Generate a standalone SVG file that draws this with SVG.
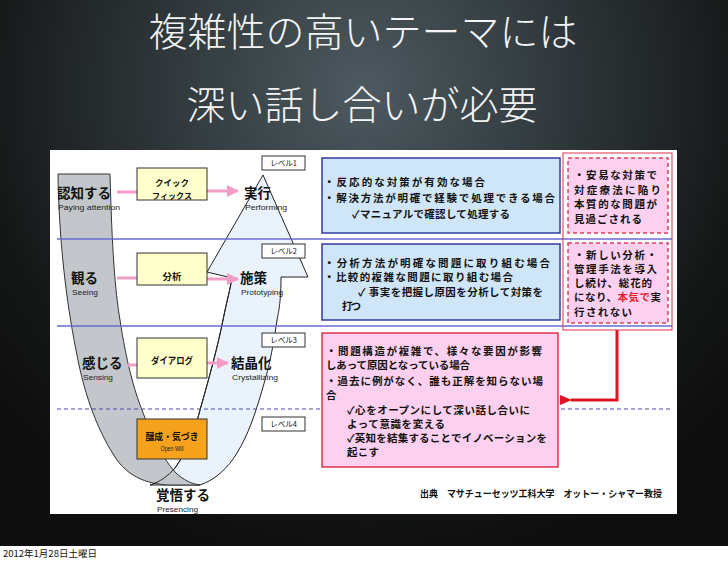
<svg xmlns="http://www.w3.org/2000/svg" width="728" height="561" viewBox="0 0 728 561">
<defs>
<radialGradient id="bg" cx="364" cy="90" r="480" gradientUnits="userSpaceOnUse">
<stop offset="0" stop-color="#4d5a60"/>
<stop offset="0.35" stop-color="#343d41"/>
<stop offset="0.8" stop-color="#151717"/>
<stop offset="1" stop-color="#0e0e0e"/>
</radialGradient>
<marker id="pinkHead" markerUnits="userSpaceOnUse" markerWidth="12" markerHeight="12" refX="11" refY="6" orient="auto">
<path d="M0,0 L12,6 L0,12 Z" fill="#f29cc8"/>
</marker>
<marker id="redHead" markerUnits="userSpaceOnUse" markerWidth="12" markerHeight="10" refX="1" refY="5" orient="auto">
<path d="M0,5 L12,0 L12,10 Z" fill="#e01424"/>
</marker>
<style>
.title{font-family:"Noto Sans CJK JP","Noto Sans CJK SC",sans-serif;font-weight:300;font-size:39px;fill:#f4f4f4;text-anchor:middle}
.jp{font-family:"Noto Sans CJK JP","Noto Sans CJK SC",sans-serif;font-weight:bold;fill:#111}
.en{font-family:"Liberation Sans",Arial,sans-serif;fill:#222}
.lab{font-size:13.5px}
.sub{font-size:8px}
.box{fill:#ffffcc;stroke:#333;stroke-width:1}
.bt{font-size:9.5px;text-anchor:middle}
.lvl{fill:#fff;stroke:#333;stroke-width:1}
.lt{font-size:7.5px;text-anchor:middle;font-weight:normal}
.bluebox{fill:#cfe6f8;stroke:#343c9c;stroke-width:1.5}
.pinkbox{fill:#fdd0f0;stroke:#e0304c;stroke-width:1.5}
.dashbox{fill:#fdd0f0;stroke:#e0405c;stroke-width:1.5;stroke-dasharray:4 3}
.tx{font-size:10.5px}
.hl{stroke:#6a6ad6;stroke-width:1.3}
.pink{stroke:#f29cc8;stroke-width:3;fill:none}
</style>
</defs>

<rect x="0" y="0" width="728" height="546" fill="url(#bg)"/>
<rect x="0" y="546" width="728" height="15" fill="#ffffff"/>
<text x="3" y="557" font-family="'Noto Sans CJK JP',sans-serif" font-size="9.5" fill="#111">2012年1月28日土曜日</text>

<g id="title">
<text class="title" x="363" y="46">複雑性の高いテーマには</text>
<text class="title" x="362" y="119">深い話し合いが必要</text>
</g>

<rect id="panel" x="50" y="150" width="627" height="364" fill="#ffffff"/>

<g id="bands">
<path d="M263,175 L308,277 L281,277 C281,300 279,310 277,320 C272,355 268,370 263,387 C255,415 248,435 237,453 C228,468 215,480 200,485 L150,485 C160,482 168,476 175,468 C188,450 195,430 200,410 C210,375 218,345 223,320 C227,300 230,290 232,278 L207,272 Z" fill="#eaf3fb" stroke="#222" stroke-width="1"/>
<path d="M58,174 L110,174 C112,250 115,290 120,320 C126,360 134,390 142,410 C150,432 160,455 175,472 C183,480 192,484 200,485 L172,485 C150,485 130,478 117,460 C100,435 85,400 76,350 C66,300 59,240 58,174 Z" fill="#c3c7cb" stroke="#333" stroke-width="1"/>
<path d="M150,485 C160,482 168,476 175,468 C188,450 195,430 200,410 C210,375 218,345 223,320 C227,300 230,290 232,278" fill="none" stroke="#222" stroke-width="1"/>
</g>

<g id="levels-lines">
<line class="hl" x1="57" y1="239" x2="672" y2="239"/>
<line class="hl" x1="57" y1="326" x2="672" y2="326"/>
<line x1="57" y1="409" x2="672" y2="409" stroke="#4a4ab8" stroke-width="1.2" stroke-dasharray="4 3"/>
</g>

<g id="connectors">
<line class="pink" x1="117" y1="192" x2="137" y2="192"/>
<line class="pink" x1="207" y1="191" x2="238" y2="191" marker-end="url(#pinkHead)"/>
<line class="pink" x1="117" y1="278" x2="137" y2="278"/>
<line class="pink" x1="207" y1="279" x2="238" y2="279" marker-end="url(#pinkHead)"/>
<line class="pink" x1="128" y1="365" x2="137" y2="365"/>
<line class="pink" x1="207" y1="363" x2="228" y2="363" marker-end="url(#pinkHead)"/>
<path d="M617,330 L617,400 L571,400" fill="none" stroke="#e01424" stroke-width="3" marker-end="url(#redHead)"/>
</g>

<g id="left-labels">
<text class="jp lab" x="57" y="198">認知する</text>
<text class="en sub" x="58" y="210" textLength="62" lengthAdjust="spacingAndGlyphs">Paying attention</text>
<text class="jp lab" x="71" y="283">観る</text>
<text class="en sub" x="72" y="295" textLength="26" lengthAdjust="spacingAndGlyphs">Seeing</text>
<text class="jp lab" x="82" y="368">感じる</text>
<text class="en sub" x="83" y="380" textLength="30" lengthAdjust="spacingAndGlyphs">Sensing</text>
<text class="jp lab" x="156" y="500">覚悟する</text>
<text class="en sub" x="157" y="512" textLength="41" lengthAdjust="spacingAndGlyphs">Presencing</text>
</g>

<g id="right-labels">
<text class="jp lab" x="244" y="198">実行</text>
<text class="en sub" x="245" y="210" textLength="42" lengthAdjust="spacingAndGlyphs">Performing</text>
<text class="jp lab" x="240" y="283">施策</text>
<text class="en sub" x="241" y="295" textLength="42" lengthAdjust="spacingAndGlyphs">Prototyping</text>
<text class="jp lab" x="231" y="368">結晶化</text>
<text class="en sub" x="232" y="380" textLength="46" lengthAdjust="spacingAndGlyphs">Crystallizing</text>
</g>

<g id="quickfix">
<rect class="box" x="137" y="168" width="70" height="32"/>
<text class="jp" x="172" y="185.5" font-size="8.5" text-anchor="middle" textLength="34" lengthAdjust="spacingAndGlyphs">クイック</text>
<text class="jp" x="172" y="198.5" font-size="8.5" text-anchor="middle" textLength="40" lengthAdjust="spacingAndGlyphs">フィックス</text>
</g>
<g id="analysis">
<rect class="box" x="137" y="253" width="70" height="32"/>
<text class="jp bt" x="172" y="280">分析</text>
</g>
<g id="dialogue">
<rect class="box" x="137" y="338" width="70" height="40"/>
<text class="jp bt" x="172" y="364" textLength="42" lengthAdjust="spacingAndGlyphs">ダイアログ</text>
</g>
<g id="openwill">
<rect x="137" y="419" width="70" height="40" fill="#f7a21c" stroke="#333" stroke-width="1"/>
<text class="jp bt" x="172" y="440" textLength="53" lengthAdjust="spacingAndGlyphs">醸成・気づき</text>
<text class="en" x="172" y="451" font-size="7" text-anchor="middle" textLength="23" lengthAdjust="spacingAndGlyphs">Open Will</text>
</g>

<g id="level1"><rect class="lvl" x="262" y="156" width="43" height="14"/><text class="jp lt" x="283.5" y="166">レベル1</text></g>
<g id="level2"><rect class="lvl" x="262" y="244" width="43" height="14"/><text class="jp lt" x="283.5" y="254">レベル2</text></g>
<g id="level3"><rect class="lvl" x="262" y="333" width="43" height="14"/><text class="jp lt" x="283.5" y="343">レベル3</text></g>
<g id="level4"><rect class="lvl" x="262" y="417" width="43" height="14"/><text class="jp lt" x="283.5" y="427">レベル4</text></g>

<g id="case1">
<rect class="bluebox" x="322" y="158" width="238" height="75"/>
<text class="jp tx" x="324" y="186" textLength="161">・反応的な対策が有効な場合</text>
<text class="jp tx" x="324" y="202" textLength="231">・解決方法が明確で経験で処理できる場合</text>
<text class="jp tx" x="352" y="218" textLength="158">✓マニュアルで確認して処理する</text>
</g>
<g id="case2">
<rect class="bluebox" x="322" y="244" width="238" height="76"/>
<text class="jp tx" x="324" y="267" textLength="226">・分析方法が明確な問題に取り組む場合</text>
<text class="jp tx" x="324" y="281" textLength="189">・比較的複雑な問題に取り組む場合</text>
<text class="jp tx" x="358" y="296" textLength="185">✓ 事実を把握し原因を分析して対策を</text>
<text class="jp tx" x="342" y="310" textLength="19">打つ</text>
</g>
<g id="case3">
<rect class="pinkbox" x="322" y="333" width="236" height="134"/>
<text class="jp tx" x="326" y="355" textLength="216">・問題構造が複雑で、様々な要因が影響</text>
<text class="jp tx" x="326" y="369" textLength="144">しあって原因となっている場合</text>
<text class="jp tx" x="326" y="385" textLength="217">・過去に例がなく、誰も正解を知らない場</text>
<text class="jp tx" x="326" y="399">合</text>
<text class="jp tx" x="347" y="414" textLength="183">✓心をオープンにして深い話し合いに</text>
<text class="jp tx" x="347" y="428" textLength="98">よって意識を変える</text>
<text class="jp tx" x="347" y="442" textLength="200">✓英知を結集することでイノベーションを</text>
<text class="jp tx" x="347" y="456" textLength="32">起こす</text>
</g>

<g id="pitfalls">
<rect x="563" y="153" width="109" height="177" fill="none" stroke="#e0304c" stroke-width="1"/>
<rect class="dashbox" x="568" y="158" width="100" height="75"/>
<text class="jp tx" x="574" y="179" textLength="83">・安易な対策で</text>
<text class="jp tx" x="574" y="194" textLength="87">対症療法に陥り</text>
<text class="jp tx" x="574" y="208" textLength="83">本質的な問題が</text>
<text class="jp tx" x="574" y="223" textLength="68">見過ごされる</text>
<rect class="dashbox" x="568" y="243" width="100" height="80"/>
<text class="jp tx" x="574" y="259" textLength="83">・新しい分析・</text>
<text class="jp tx" x="574" y="273" textLength="83">管理手法を導入</text>
<text class="jp tx" x="574" y="287" textLength="78">し続け、総花的</text>
<text class="jp tx" x="574" y="301" textLength="87">になり、<tspan fill="#e8202c">本気で</tspan>実</text>
<text class="jp tx" x="574" y="316" textLength="58">行されない</text>
</g>

<g id="credit">
<text class="jp" x="420" y="497" font-size="9.5" textLength="242" lengthAdjust="spacingAndGlyphs">出典　マサチューセッツ工科大学　オットー・シャマー教授</text>
</g>
</svg>
